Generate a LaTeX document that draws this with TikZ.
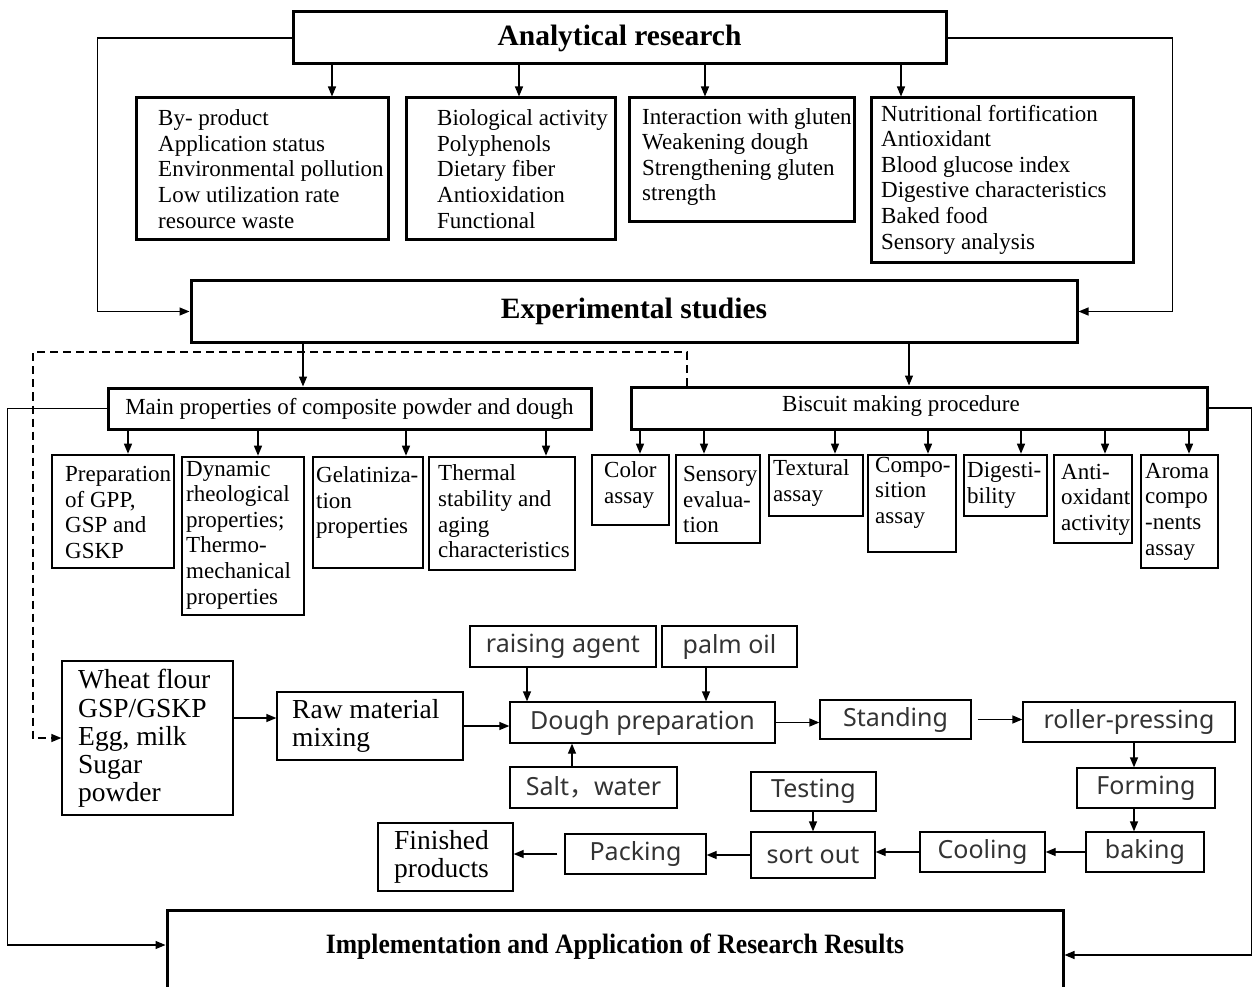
\documentclass[tikz,border=0pt]{standalone}
\usepackage{fontspec}
\setmainfont{Liberation Serif}
\newfontfamily\flowsans{Noto Sans}
\newfontfamily\cjkf{Noto Sans CJK SC}
\usetikzlibrary{arrows.meta,calc}
\tikzset{
 bigbox/.style={draw, line width=3pt, inner sep=0pt},
 subbox/.style={draw, line width=2.6pt, inner sep=0pt},
 flowbox/.style={draw, line width=1.3pt, inner sep=0pt},
 txt/.style={anchor=west, align=left, inner sep=0pt, font=\fontsize{23}{25.6}\selectfont},
 txtc/.style={inner sep=0pt, font=\fontsize{23}{25.6}\selectfont},
 ttl/.style={font=\bfseries\fontsize{29.5}{32}\selectfont},
 sans/.style={font=\flowsans\fontsize{25}{28}\selectfont, text=black!80},
 serifflow/.style={anchor=west, align=left, inner sep=0pt, font=\fontsize{27.5}{28.2}\selectfont},
 arr/.style={line width=1.3pt, -{Triangle[length=10pt,width=8pt]}},
}
\begin{document}
\begin{tikzpicture}[x=1pt,y=-1pt]
\useasboundingbox (0,0) rectangle (1254,987);
\clip (0,0) rectangle (1254,987);
\fill[white] (0,0) rectangle (1254,987);

% top level
\node[bigbox, ttl, minimum width=653, minimum height=52] (ana) at (619.5,38) {Analytical research};
\node[bigbox, minimum width=252, minimum height=142] (b1) at (262,169) {};
\node[txt] (b1t) at (158,169) {By- product\\Application status\\Environmental pollution\\Low utilization rate\\resource waste};
\node[bigbox, minimum width=209, minimum height=142] (b2) at (510.5,169) {};
\node[txt] (b2t) at (437,169) {Biological activity\\Polyphenols\\Dietary fiber\\Antioxidation\\Functional};
\node[bigbox, minimum width=225, minimum height=124] (b3) at (741.5,160) {};
\node[txt] (b3t) at (642,157) {Interaction with gluten\\Weakening dough\\Strengthening gluten\\strength};
\node[bigbox, minimum width=262, minimum height=165] (b4) at (1002,180.5) {};
\node[txt] (b4t) at (881,179.5) {Nutritional fortification\\Antioxidant\\Blood glucose index\\Digestive characteristics\\Baked food\\Sensory analysis};

\node[bigbox, ttl, minimum width=886, minimum height=61] (exp) at (634,311.5) {Experimental studies};

\node[bigbox, txtc, minimum width=483, minimum height=41] (mainp) at (349.5,408.5) {Main properties of composite powder and dough};
\node[bigbox, minimum width=576, minimum height=42] (bis) at (919,408) {};
\node[txtc] (bist) at (901,406) {Biscuit making procedure};

% main sub boxes
\node[subbox, minimum width=122, minimum height=113] (s1) at (113,511.5) {};
\node[txt] (s1t) at (65,512.5) {Preparation\\of GPP,\\GSP and\\GSKP};
\node[subbox, minimum width=122, minimum height=158] (s2) at (243,536) {};
\node[txt] (s2t) at (186,535) {Dynamic\\rheological\\properties;\\Thermo-\\mechanical\\properties};
\node[subbox, minimum width=110, minimum height=111] (s3) at (368,512.5) {};
\node[txt] (s3t) at (316,502.5) {Gelatiniza-\\tion\\properties};
\node[subbox, minimum width=146, minimum height=113] (s4) at (502,513.5) {};
\node[txt] (s4t) at (438,511.5) {Thermal\\stability and\\aging\\characteristics};

% biscuit sub boxes
\node[subbox, minimum width=77, minimum height=70] (c1) at (630.5,490) {};
\node[txt] (c1t) at (604,485) {Color\\assay};
\node[subbox, minimum width=84, minimum height=88] (c2) at (718,499) {};
\node[txt] (c2t) at (683,499.5) {Sensory\\evalua-\\tion};
\node[subbox, minimum width=94, minimum height=61] (c3) at (816,485.5) {};
\node[txt] (c3t) at (773,483) {Textural\\assay};
\node[subbox, minimum width=88, minimum height=97] (c4) at (912,503.5) {};
\node[txt] (c4t) at (875,492.5) {Compo-\\sition\\assay};
\node[subbox, minimum width=83, minimum height=61] (c5) at (1005.5,485.5) {};
\node[txt] (c5t) at (967,485.5) {Digesti-\\bility};
\node[subbox, minimum width=78, minimum height=88] (c6) at (1093,499) {};
\node[txt] (c6t) at (1061,499.5) {Anti-\\oxidant\\activity};
\node[subbox, minimum width=77, minimum height=113] (c7) at (1179.5,511.5) {};
\node[txt] (c7t) at (1145,511.5) {Aroma\\compo\\-nents\\assay};

% flow
\node[flowbox, minimum width=171, minimum height=154] (wheat) at (147.5,738) {};
\node[serifflow] (wheatt) at (78,738.5) {Wheat flour\\GSP/GSKP\\Egg, milk\\Sugar\\powder};
\node[flowbox, minimum width=186, minimum height=68] (raw) at (370,726) {};
\node[serifflow] (rawt) at (292,726) {Raw material\\mixing};
\node[flowbox, minimum width=135, minimum height=68] (fin) at (445.5,857) {};
\node[serifflow] (fint) at (394,857) {Finished\\products};
\node[flowbox, sans, minimum width=186, minimum height=41] (rais) at (563,646.5) {raising agent};
\node[flowbox, sans, minimum width=135, minimum height=41] (palm) at (729.5,646.5) {palm oil};
\node[flowbox, sans, minimum width=265, minimum height=41] (dough) at (642.5,722.5) {Dough preparation};
\node[flowbox, sans, minimum width=167, minimum height=41] (salt) at (593.5,787.5) {Salt{\cjkf ，}water};
\node[flowbox, sans, minimum width=151, minimum height=39] (stand) at (895.5,719.5) {Standing};
\node[flowbox, sans, minimum width=212, minimum height=40] (roller) at (1129,722) {roller-pressing};
\node[flowbox, sans, minimum width=138, minimum height=40] (form) at (1146,788) {Forming};
\node[flowbox, sans, minimum width=118, minimum height=40] (bake) at (1145,852) {baking};
\node[flowbox, sans, minimum width=125, minimum height=40] (cool) at (982.5,852) {Cooling};
\node[flowbox, sans, minimum width=124, minimum height=46] (sort) at (813,855) {sort out};
\node[flowbox, sans, minimum width=125, minimum height=39] (test) at (813.5,791.5) {Testing};
\node[flowbox, sans, minimum width=141, minimum height=40] (pack) at (635.5,854) {Packing};

% implementation
\node[bigbox, minimum width=896, minimum height=200, anchor=north] (impl) at (615,909) {};
\node[font=\bfseries\fontsize{28}{30}\selectfont, inner sep=0pt] (implt) at (615,947) {\scalebox{0.915}[1]{Implementation and Application of Research Results}};

% connectors top
\draw[arr] (ana.west) -- ++(-194,0) |- (exp.west);
\draw[arr] (ana.east) -- ++(225,0) |- (exp.east);
\foreach \n/\x in {b1/332, b2/519, b3/705, b4/901}
  \draw[arr] (ana.south -| \x,0) -- (\n.north -| \x,0);
\draw[arr] (exp.south -| 303,0) -- (mainp.north -| 303,0);
\draw[arr] (exp.south -| 909,0) -- (bis.north -| 909,0);
\foreach \n/\x in {s1/128, s2/258, s3/406, s4/546}
  \draw[arr] (mainp.south -| \x,0) -- (\n.north -| \x,0);
\foreach \n/\x in {c1/640, c2/704, c3/835, c4/928, c5/1021, c6/1105, c7/1189}
  \draw[arr] (bis.south -| \x,0) -- (\n.north -| \x,0);

\draw[arr] (mainp.west) -- ++(-99,0) |- ($(impl.north west)+(0,36)$);
\draw[arr] (bis.east) -- ++(43,0) |- ($(impl.north east)+(0,46)$);

\draw[arr, dash pattern=on 8pt off 5pt] (bis.north -| 687,0) |- (33,352) |- (wheat.west);

% flow connectors
\draw[arr] (wheat.east |- 0,718) -- (raw.west |- 0,718);
\draw[arr] (raw.east) -- (raw.east -| dough.west);
\draw[arr] (rais.south -| 527,0) -- (dough.north -| 527,0);
\draw[arr] (palm.south -| 706,0) -- (dough.north -| 706,0);
\draw[arr] (salt.north -| 572,0) -- (dough.south -| 572,0);
\draw[arr] (dough.east) -- (dough.east -| stand.west);
\draw[arr] ($(stand.east)+(6,0)$) -- (stand.east -| roller.west);
\draw[arr] (roller.south -| 1134,0) -- (form.north -| 1134,0);
\draw[arr] (form.south -| 1134,0) -- (bake.north -| 1134,0);
\draw[arr] (bake.west) -- (cool.east);
\draw[arr] (cool.west) -- (cool.west -| sort.east);
\draw[arr] (test.south -| 813,0) -- (sort.north -| 813,0);
\draw[arr] (sort.west) -- (sort.west -| pack.east);
\draw[arr] ($(pack.west)+(-7,0)$) -- (pack.west -| fin.east);
\end{tikzpicture}
\end{document}
